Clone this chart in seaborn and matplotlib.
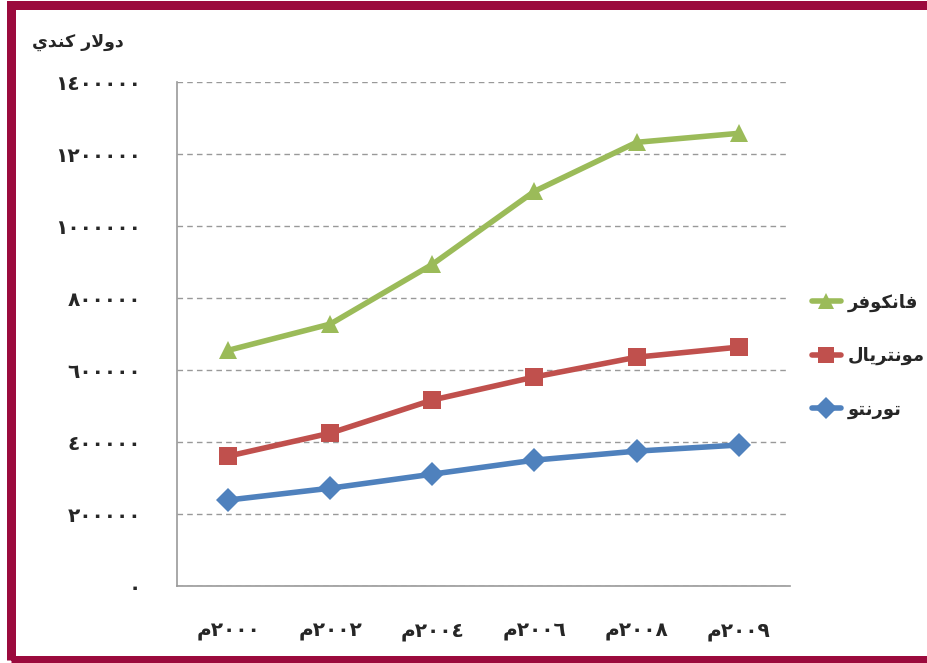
import matplotlib
matplotlib.use("Agg")
import matplotlib.pyplot as plt
from matplotlib.patches import Rectangle
from matplotlib.lines import Line2D
import seaborn as sns
import pandas as pd

# ---- data -------------------------------------------------------------
years = ["2000", "2002", "2004", "2006", "2008", "2009"]
vancouver = [655000, 728000, 894000, 1097000, 1233000, 1258000]
montreal = [361000, 425000, 517000, 581000, 636000, 664000]
toronto = [239000, 272000, 311000, 350000, 375000, 392000]
series_names = ["فانكوفر", "مونتريال", "تورنتو"]
y_title = "دولار كندي"
year_suffix = "م"
y_ticks = [0, 200000, 400000, 600000, 800000, 1000000, 1200000, 1400000]

# ---- Arabic display helpers (contextual forms, right-to-left order) ---
FORMS = {  # isolated, final, initial, medial
    "ا": ("\uFE8D", "\uFE8E", None, None),
    "د": ("\uFEA9", "\uFEAA", None, None),
    "ر": ("\uFEAD", "\uFEAE", None, None),
    "و": ("\uFEED", "\uFEEE", None, None),
    "ت": ("\uFE95", "\uFE96", "\uFE97", "\uFE98"),
    "ف": ("\uFED1", "\uFED2", "\uFED3", "\uFED4"),
    "ك": ("\uFED9", "\uFEDA", "\uFEDB", "\uFEDC"),
    "ل": ("\uFEDD", "\uFEDE", "\uFEDF", "\uFEE0"),
    "م": ("\uFEE1", "\uFEE2", "\uFEE3", "\uFEE4"),
    "ن": ("\uFEE5", "\uFEE6", "\uFEE7", "\uFEE8"),
    "ي": ("\uFEF1", "\uFEF2", "\uFEF3", "\uFEF4"),
}


def dual(ch):
    return ch in FORMS and FORMS[ch][2] is not None


def shape_word(word):
    out = []
    i = 0
    n = len(word)
    while i < n:
        ch = word[i]
        prev_joins = i > 0 and dual(word[i - 1])
        if ch == "ل" and i + 1 < n and word[i + 1] == "ا":
            out.append("\uFEFC" if prev_joins else "\uFEFB")
            i += 2
            continue
        if ch not in FORMS:
            out.append(ch)
            i += 1
            continue
        iso, fin, ini, med = FORMS[ch]
        next_exists = i + 1 < n and word[i + 1] in FORMS
        if dual(ch) and next_exists:
            out.append(med if prev_joins else ini)
        else:
            out.append(fin if prev_joins else iso)
        i += 1
    return "".join(reversed(out))


def ar(text):
    return " ".join(shape_word(w) for w in reversed(text.split(" ")))


def indic(num_text):
    return num_text.translate(str.maketrans("0123456789", "٠١٢٣٤٥٦٧٨٩"))


x_labels = [shape_word(year_suffix) + indic(y) for y in years]

# ---- frame ------------------------------------------------------------
df = pd.DataFrame({
    "year": x_labels * 3,
    "value": vancouver + montreal + toronto,
    "city": [series_names[0]] * 6 + [series_names[1]] * 6 + [series_names[2]] * 6,
})

sns.set_theme(style="white")
plt.rcParams["font.family"] = ["DejaVu Sans"]

W, H = 927, 663
fig = plt.figure(figsize=(W / 100, H / 100), dpi=100)
ax = fig.add_axes([0.191, 0.116, 0.661, 0.760])

colors = {series_names[0]: "#9BBB59", series_names[1]: "#C0504D", series_names[2]: "#4F81BD"}
markers = {series_names[0]: "^", series_names[1]: "s", series_names[2]: "D"}
msize = {series_names[0]: 13, series_names[1]: 13, series_names[2]: 12}

for city in series_names:
    sub = df[df["city"] == city]
    sns.lineplot(data=sub, x="year", y="value", ax=ax, color=colors[city],
                 linewidth=4, marker=markers[city], markersize=msize[city],
                 markeredgewidth=0, sort=False, zorder=3)

ax.set_ylim(0, 1400000)
ax.set_xlim(-0.5, 5.5)
ax.set_yticks(y_ticks)
ax.set_yticklabels([indic(str(v)) for v in y_ticks], fontsize=14.5, fontweight="bold")
ax.set_xticks(range(len(x_labels)))
ax.set_xticklabels(x_labels, fontsize=14.5, fontweight="bold")
ax.tick_params(axis="y", pad=26, length=0)
ax.tick_params(axis="x", pad=26, length=0)
ax.set_xlabel("")
ax.set_ylabel("")

ax.yaxis.grid(True, linestyle=(0, (4, 3)), color="#999999", linewidth=1)
ax.set_axisbelow(True)
for side in ("top", "right"):
    ax.spines[side].set_visible(False)
for side in ("left", "bottom"):
    ax.spines[side].set_color("#999999")
    ax.spines[side].set_linewidth(1.2)

fig.text(0.034, 0.937, ar(y_title), fontsize=12.5, fontweight="bold", ha="left", va="center")

handles = [Line2D([], [], color=colors[c], linewidth=4, marker=markers[c],
                  markersize=msize[c] - 1, markeredgewidth=0) for c in series_names]
fig.legend(handles, [ar(c) for c in series_names], loc="center left",
           bbox_to_anchor=(0.876, 0.463), frameon=False, handlelength=1.6,
           handletextpad=0.4, labelspacing=1.95, borderaxespad=0, borderpad=0,
           prop={"size": 13, "weight": "bold"})

# maroon frame on the left, top and bottom edges (open on the right)
fig.patches.append(Rectangle((10.5 / W, 3 / H), 1.1, (H - 7.5) / H,
                             transform=fig.transFigure, fill=False,
                             edgecolor="#9B0A3D", linewidth=9 * 0.72, zorder=10))

fig.savefig("out.png", dpi=100, facecolor="white")
